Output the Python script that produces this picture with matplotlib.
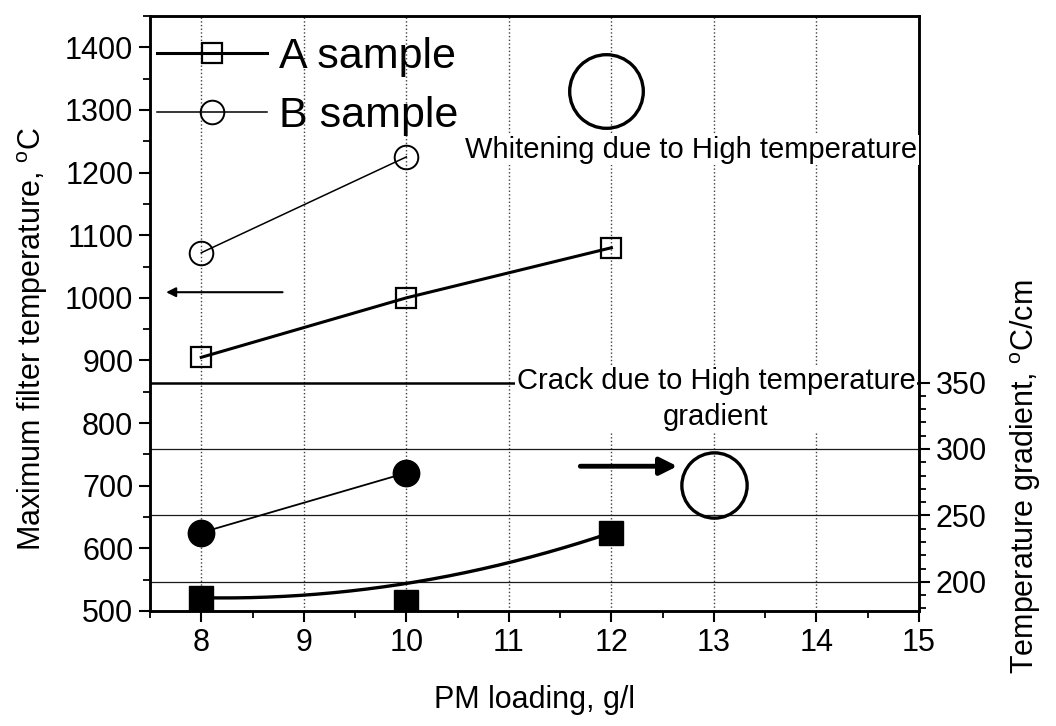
import numpy as np
import matplotlib
matplotlib.use("Agg")
import matplotlib.pyplot as plt
from matplotlib.ticker import FixedLocator, MultipleLocator

plt.rcParams["font.family"] = ["Liberation Sans", "DejaVu Sans"]

# data
loading = [8, 10, 12]
temp_a = [905, 1000, 1080]          # A sample, max filter temperature (left axis)
temp_b = [1072, 1225]               # B sample, max filter temperature (left axis)
grad_a = [188, 185, 237]            # A sample, temperature gradient (right axis)
grad_b = [237, 282]                 # B sample, temperature gradient (right axis)

# annotation marks
whitening_mark = (11.95, 1331)      # big open circle, left axis
crack_mark = (13.0, 273)            # big open circle, right axis

fs = 22

fig = plt.figure(figsize=(10.56, 7.26), dpi=100)
ax = fig.add_axes([150 / 1056, 1 - 611 / 726, (919 - 150) / 1056, (611 - 16) / 726])
ax2 = ax.twinx()

ax.set_xlim(7.5, 15)
ax.set_ylim(500, 1450)
ax2.set_ylim(178, 626)

# open symbols: max filter temperature
ax.plot(loading, temp_a, "-s", color="k", lw=2.2, ms=14, mfc="none", mew=1.6,
        label="A sample", zorder=5)
ax.plot(loading[:2], temp_b, "-o", color="k", lw=1.1, ms=17, mfc="none", mew=1.4,
        label="B sample", zorder=5)

# filled symbols: temperature gradient (B-spline through A points)
t = np.linspace(0, 1, 200)
bx = (1 - t) ** 2 * loading[0] + 2 * t * (1 - t) * loading[1] + t ** 2 * loading[2]
by = (1 - t) ** 2 * grad_a[0] + 2 * t * (1 - t) * grad_a[1] + t ** 2 * grad_a[2]
ax2.plot(bx, by, color="k", lw=2.4, zorder=5)
ax2.plot(loading, grad_a, "s", color="k", ms=17, zorder=6)
ax2.plot(loading[:2], grad_b, "-o", color="k", lw=1.3, ms=19, zorder=6)

# grids
ax.set_xticks(range(8, 16))
ax.xaxis.set_minor_locator(FixedLocator(np.arange(7.5, 15, 1.0)))
ax.grid(axis="x", which="major", ls=":", lw=1.0, color="0.25")
ax.yaxis.set_major_locator(FixedLocator(range(500, 1401, 100)))
ax.yaxis.set_minor_locator(MultipleLocator(50))

ax2.yaxis.set_major_locator(FixedLocator([200, 250, 300, 350]))
ax2.yaxis.set_minor_locator(FixedLocator([v for v in range(180, 350, 10) if v % 50]))
for g in [200, 250, 300]:
    ax2.axhline(g, color="0.1", lw=0.9, zorder=1)
ax2.axhline(350, color="k", lw=1.8, zorder=1)

for a in (ax, ax2):
    for s in a.spines.values():
        s.set_linewidth(1.8)
ax.tick_params(which="major", direction="out", length=8, width=1.5, labelsize=fs, pad=4)
ax.tick_params(which="minor", direction="out", length=5, width=1.3)
ax2.tick_params(which="major", direction="out", length=8, width=1.5, labelsize=fs, pad=4)
ax2.tick_params(which="minor", direction="out", length=5, width=1.3)

ax.set_xlabel("PM loading, g/l", fontsize=fs, labelpad=20)
fig.text(33 / 1056, 1 - 339 / 726, "Maximum filter temperature, $^\\mathregular{o}$C",
         rotation=90, fontsize=fs, ha="center", va="center")
fig.text(1026 / 1056, 1 - 477 / 726, "Temperature gradient, $^\\mathregular{o}$C/cm",
         rotation=90, fontsize=fs, ha="center", va="center")

# annotations
ax2.plot(*whitening_mark, "o", ms=53, mfc="none", mec="k", mew=2.4,
         transform=ax.transData, zorder=7)
ax2.plot(*crack_mark, "o", ms=47, mfc="none", mec="k", mew=2.4, zorder=7)
ax2.text(12.78, 1236, "Whitening due to High temperature", fontsize=21,
         ha="center", va="center", transform=ax.transData, zorder=8,
         bbox=dict(facecolor="white", edgecolor="none", pad=1))
ax2.text(13.02, 337.6, "Crack due to High temperature\ngradient", fontsize=21,
         ha="center", va="center", multialignment="center", linespacing=1.4,
         zorder=8, bbox=dict(facecolor="white", edgecolor="none", pad=1))
ax.annotate("", xy=(7.63, 1009), xytext=(8.82, 1009),
            arrowprops=dict(arrowstyle="-|>", lw=1.5, color="k", mutation_scale=14))
ax2.annotate("", xy=(12.67, 287), xytext=(11.67, 287), zorder=8,
             arrowprops=dict(arrowstyle="-|>", lw=3.5, color="k", mutation_scale=26))

leg = ax.legend(loc="upper left", bbox_to_anchor=(0.0, 0.9765), frameon=False,
                fontsize=31, handlelength=2.55, handletextpad=0.28, labelspacing=0.44,
                borderpad=0.16, borderaxespad=0.0)
leg.set_zorder(10)

fig.savefig("out.png", dpi=100)
